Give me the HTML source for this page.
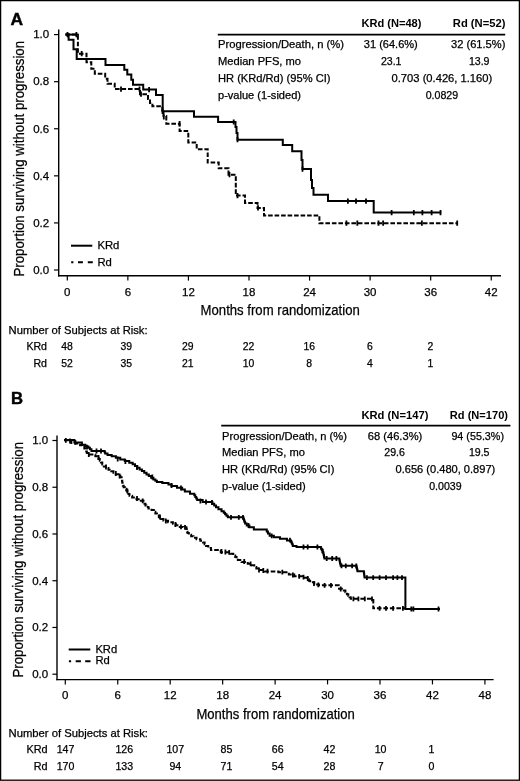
<!DOCTYPE html>
<html><head><meta charset="utf-8"><style>
html,body{margin:0;padding:0;background:#fff;}
svg{display:block;will-change:transform;}
text{font-family:"Liberation Sans", sans-serif;fill:#000;stroke:#000;stroke-width:0.25px;}
</style></head><body>
<svg width="520" height="781" viewBox="0 0 520 781" stroke="#000" fill="#000">
<rect x="0" y="0" width="520" height="781" fill="#fff" stroke="none"/>
<g stroke="none">
</g>
<g>
<line x1="58.7" y1="29.6" x2="58.7" y2="276.4" stroke-width="1.4"/>
<line x1="58" y1="275.8" x2="501" y2="275.8" stroke-width="1.4"/>
<line x1="54" y1="270" x2="58.7" y2="270" stroke-width="1.2"/>
<text x="49.2" y="273.8" font-size="11.5" text-anchor="end">0.0</text>
<line x1="54" y1="222.92" x2="58.7" y2="222.92" stroke-width="1.2"/>
<text x="49.2" y="226.72" font-size="11.5" text-anchor="end">0.2</text>
<line x1="54" y1="175.84" x2="58.7" y2="175.84" stroke-width="1.2"/>
<text x="49.2" y="179.64" font-size="11.5" text-anchor="end">0.4</text>
<line x1="54" y1="128.76" x2="58.7" y2="128.76" stroke-width="1.2"/>
<text x="49.2" y="132.56" font-size="11.5" text-anchor="end">0.6</text>
<line x1="54" y1="81.68" x2="58.7" y2="81.68" stroke-width="1.2"/>
<text x="49.2" y="85.48" font-size="11.5" text-anchor="end">0.8</text>
<line x1="54" y1="34.6" x2="58.7" y2="34.6" stroke-width="1.2"/>
<text x="49.2" y="38.4" font-size="11.5" text-anchor="end">1.0</text>
<line x1="67.3" y1="275.8" x2="67.3" y2="280.6" stroke-width="1.2"/>
<text x="67.3" y="295.8" font-size="11.5" text-anchor="middle">0</text>
<line x1="127.86" y1="275.8" x2="127.86" y2="280.6" stroke-width="1.2"/>
<text x="127.86" y="295.8" font-size="11.5" text-anchor="middle">6</text>
<line x1="188.43" y1="275.8" x2="188.43" y2="280.6" stroke-width="1.2"/>
<text x="188.43" y="295.8" font-size="11.5" text-anchor="middle">12</text>
<line x1="248.99" y1="275.8" x2="248.99" y2="280.6" stroke-width="1.2"/>
<text x="248.99" y="295.8" font-size="11.5" text-anchor="middle">18</text>
<line x1="309.56" y1="275.8" x2="309.56" y2="280.6" stroke-width="1.2"/>
<text x="309.56" y="295.8" font-size="11.5" text-anchor="middle">24</text>
<line x1="370.12" y1="275.8" x2="370.12" y2="280.6" stroke-width="1.2"/>
<text x="370.12" y="295.8" font-size="11.5" text-anchor="middle">30</text>
<line x1="430.68" y1="275.8" x2="430.68" y2="280.6" stroke-width="1.2"/>
<text x="430.68" y="295.8" font-size="11.5" text-anchor="middle">36</text>
<line x1="491.25" y1="275.8" x2="491.25" y2="280.6" stroke-width="1.2"/>
<text x="491.25" y="295.8" font-size="11.5" text-anchor="middle">42</text>
<text x="200.6" y="315.3" font-size="14.6" text-anchor="start" textLength="159.2" lengthAdjust="spacingAndGlyphs">Months from randomization</text>
<text transform="translate(24.0,276.5) rotate(-90)" font-size="15.2" textLength="235.6" lengthAdjust="spacingAndGlyphs">Proportion surviving without progression</text>
<text x="10.4" y="24.9" font-size="17.4" font-weight="bold" style="stroke-width:0.45px">A</text>
<text x="361.4" y="27.4" font-size="11" text-anchor="start" font-weight="bold" style="stroke-width:0" textLength="60" lengthAdjust="spacingAndGlyphs">KRd (N=48)</text>
<text x="452.8" y="27.4" font-size="11" text-anchor="start" font-weight="bold" style="stroke-width:0" textLength="52.6" lengthAdjust="spacingAndGlyphs">Rd (N=52)</text>
<line x1="217.8" y1="34.6" x2="505.2" y2="34.6" stroke-width="1.6"/>
<text x="218" y="48.4" font-size="10.6" text-anchor="start" textLength="126" lengthAdjust="spacingAndGlyphs">Progression/Death, n (%)</text>
<text x="218" y="65.1" font-size="10.6" text-anchor="start" textLength="83" lengthAdjust="spacingAndGlyphs">Median PFS, mo</text>
<text x="218" y="81.8" font-size="10.6" text-anchor="start" textLength="112.5" lengthAdjust="spacingAndGlyphs">HR (KRd/Rd) (95% CI)</text>
<text x="218" y="98.5" font-size="10.6" text-anchor="start" textLength="83" lengthAdjust="spacingAndGlyphs">p-value (1-sided)</text>
<text x="390.8" y="48.4" font-size="10.6" text-anchor="middle" textLength="54" lengthAdjust="spacingAndGlyphs">31 (64.6%)</text>
<text x="478.2" y="48.4" font-size="10.6" text-anchor="middle" textLength="54.4" lengthAdjust="spacingAndGlyphs">32 (61.5%)</text>
<text x="391.2" y="65.1" font-size="10.6" text-anchor="middle">23.1</text>
<text x="479.2" y="65.1" font-size="10.6" text-anchor="middle">13.9</text>
<text x="441.9" y="81.8" font-size="10.6" text-anchor="middle" textLength="100.7" lengthAdjust="spacingAndGlyphs">0.703 (0.426, 1.160)</text>
<text x="441.9" y="98.5" font-size="10.6" text-anchor="middle">0.0829</text>
<line x1="71" y1="245.7" x2="92.3" y2="245.7" stroke-width="2"/>
<path d="M71.2 262.2H73.4M78 262.2H82.9M87.8 262.2H92.8" stroke-width="2.1" fill="none"/>
<text x="97.4" y="249" font-size="11.3" text-anchor="start">KRd</text>
<text x="97.4" y="265.8" font-size="11.3" text-anchor="start">Rd</text>
<text x="8.6" y="333.8" font-size="10.8" text-anchor="start" textLength="139" lengthAdjust="spacingAndGlyphs">Number of Subjects at Risk:</text>
<text x="47" y="350" font-size="10.6" text-anchor="end">KRd</text>
<text x="47" y="366.6" font-size="10.6" text-anchor="end">Rd</text>
<text x="67.1" y="350.1" font-size="10.4" text-anchor="middle">48</text>
<text x="67.1" y="366.6" font-size="10.4" text-anchor="middle">52</text>
<text x="126.2" y="350.1" font-size="10.4" text-anchor="middle">39</text>
<text x="126.2" y="366.6" font-size="10.4" text-anchor="middle">35</text>
<text x="187.7" y="350.1" font-size="10.4" text-anchor="middle">29</text>
<text x="187.7" y="366.6" font-size="10.4" text-anchor="middle">21</text>
<text x="248.5" y="350.1" font-size="10.4" text-anchor="middle">22</text>
<text x="248.5" y="366.6" font-size="10.4" text-anchor="middle">10</text>
<text x="309.2" y="350.1" font-size="10.4" text-anchor="middle">16</text>
<text x="309.2" y="366.6" font-size="10.4" text-anchor="middle">8</text>
<text x="370" y="350.1" font-size="10.4" text-anchor="middle">6</text>
<text x="370" y="366.6" font-size="10.4" text-anchor="middle">4</text>
<text x="430.3" y="350.1" font-size="10.4" text-anchor="middle">2</text>
<text x="430.3" y="366.6" font-size="10.4" text-anchor="middle">1</text>
<path d="M65.5 34.6H68.6V39.8H73.5V49.3H76.7V58.9H105.5V64.9H124.3V69.8H127.3V74.6H131.3V79.8H133V84.8H143.2V89.6H156V95H162.7V111.3H194V116.8H218.1V122H235.5V127H236.5V133H237.5V139.7H282.8V145H292.2V151.3H301.5V160H302.5V169.1H311V180H312V188H313.5V194.8H328V201.1H373.7V212.6H441.3" stroke-width="2" fill="none" stroke-linejoin="miter"/>
<path d="M65.5 34.6H77.9V53.7H86.5V62.3H91.3V68.7H94.8V73.8H105.2V78.8H107.5V83.7H114.7V89.1H140V94.2H148V99H150V103H152.4V106.3H162.3V112H163.5V116H166.3V123.7H179.6V131H188.3V142.5H196.7V149.2H207.7V162.5H218.7V168.3H228.5V174.7H235.8V195.6H245V202.9H257.5V207.9H264V215.5H319.4V223.2H458" stroke-width="2" fill="none" stroke-dasharray="4.6 1.9"/>
<path d="M65.5 34.6H78.9" stroke-width="2" fill="none"/>
<path d="M67.5 32V37.2M149.1 87V92.2M233.7 119.4V124.6M237.5 137.1V142.3M302.5 166.5V171.7M347.9 198.5V203.7M356 198.5V203.7M366 198.5V203.7M391.6 210V215.2M413.8 210V215.2M422.4 210V215.2M431.6 210V215.2M440.5 210V215.2M76.4 32V37.2M81.7 51.1V56.3M121 86.5V91.7M139.5 86.5V91.7M141 91.6V96.8M162.5 108.9V114.1M163.8 114.4V119.6M179.6 121.1V126.3M229.5 172.1V177.3M237.5 193V198.2M258 205.3V210.5M346.4 220.6V225.8M357.3 220.6V225.8M378.5 220.6V225.8M383.1 220.6V225.8M421.9 220.6V225.8M457.2 220.6V225.8" stroke-width="1.8" fill="none"/>
<line x1="57" y1="435.4" x2="57" y2="680.3" stroke-width="1.4"/>
<line x1="56.3" y1="679.6" x2="493.6" y2="679.6" stroke-width="1.4"/>
<line x1="52.4" y1="674.2" x2="57" y2="674.2" stroke-width="1.2"/>
<text x="48.2" y="678" font-size="11.5" text-anchor="end">0.0</text>
<line x1="52.4" y1="627.46" x2="57" y2="627.46" stroke-width="1.2"/>
<text x="48.2" y="631.26" font-size="11.5" text-anchor="end">0.2</text>
<line x1="52.4" y1="580.72" x2="57" y2="580.72" stroke-width="1.2"/>
<text x="48.2" y="584.52" font-size="11.5" text-anchor="end">0.4</text>
<line x1="52.4" y1="533.98" x2="57" y2="533.98" stroke-width="1.2"/>
<text x="48.2" y="537.78" font-size="11.5" text-anchor="end">0.6</text>
<line x1="52.4" y1="487.24" x2="57" y2="487.24" stroke-width="1.2"/>
<text x="48.2" y="491.04" font-size="11.5" text-anchor="end">0.8</text>
<line x1="52.4" y1="440.5" x2="57" y2="440.5" stroke-width="1.2"/>
<text x="48.2" y="444.3" font-size="11.5" text-anchor="end">1.0</text>
<line x1="65.3" y1="679.6" x2="65.3" y2="684.4" stroke-width="1.2"/>
<text x="65.3" y="699.4" font-size="11.5" text-anchor="middle">0</text>
<line x1="117.75" y1="679.6" x2="117.75" y2="684.4" stroke-width="1.2"/>
<text x="117.75" y="699.4" font-size="11.5" text-anchor="middle">6</text>
<line x1="170.2" y1="679.6" x2="170.2" y2="684.4" stroke-width="1.2"/>
<text x="170.2" y="699.4" font-size="11.5" text-anchor="middle">12</text>
<line x1="222.66" y1="679.6" x2="222.66" y2="684.4" stroke-width="1.2"/>
<text x="222.66" y="699.4" font-size="11.5" text-anchor="middle">18</text>
<line x1="275.11" y1="679.6" x2="275.11" y2="684.4" stroke-width="1.2"/>
<text x="275.11" y="699.4" font-size="11.5" text-anchor="middle">24</text>
<line x1="327.56" y1="679.6" x2="327.56" y2="684.4" stroke-width="1.2"/>
<text x="327.56" y="699.4" font-size="11.5" text-anchor="middle">30</text>
<line x1="380.01" y1="679.6" x2="380.01" y2="684.4" stroke-width="1.2"/>
<text x="380.01" y="699.4" font-size="11.5" text-anchor="middle">36</text>
<line x1="432.46" y1="679.6" x2="432.46" y2="684.4" stroke-width="1.2"/>
<text x="432.46" y="699.4" font-size="11.5" text-anchor="middle">42</text>
<line x1="484.92" y1="679.6" x2="484.92" y2="684.4" stroke-width="1.2"/>
<text x="484.92" y="699.4" font-size="11.5" text-anchor="middle">48</text>
<text x="196.4" y="718.9" font-size="14.2" text-anchor="start" textLength="158.4" lengthAdjust="spacingAndGlyphs">Months from randomization</text>
<text transform="translate(22.5,677.6) rotate(-90)" font-size="15.2" textLength="235.6" lengthAdjust="spacingAndGlyphs">Proportion surviving without progression</text>
<text x="11" y="404.3" font-size="16.7" font-weight="bold" style="stroke-width:0.45px">B</text>
<text x="361.4" y="418.8" font-size="11" text-anchor="start" font-weight="bold" style="stroke-width:0" textLength="67" lengthAdjust="spacingAndGlyphs">KRd (N=147)</text>
<text x="449.8" y="418.8" font-size="11" text-anchor="start" font-weight="bold" style="stroke-width:0" textLength="58.2" lengthAdjust="spacingAndGlyphs">Rd (N=170)</text>
<line x1="221.2" y1="425.6" x2="510.4" y2="425.6" stroke-width="1.6"/>
<text x="222.1" y="439.6" font-size="10.6" text-anchor="start" textLength="124.8" lengthAdjust="spacingAndGlyphs">Progression/Death, n (%)</text>
<text x="222.1" y="456.3" font-size="10.6" text-anchor="start" textLength="82.8" lengthAdjust="spacingAndGlyphs">Median PFS, mo</text>
<text x="222.1" y="473" font-size="10.6" text-anchor="start" textLength="112.3" lengthAdjust="spacingAndGlyphs">HR (KRd/Rd) (95% CI)</text>
<text x="222.1" y="489.7" font-size="10.6" text-anchor="start" textLength="83.6" lengthAdjust="spacingAndGlyphs">p-value (1-sided)</text>
<text x="395" y="439.6" font-size="10.6" text-anchor="middle" textLength="54.5" lengthAdjust="spacingAndGlyphs">68 (46.3%)</text>
<text x="477.7" y="439.6" font-size="10.6" text-anchor="middle" textLength="52.6" lengthAdjust="spacingAndGlyphs">94 (55.3%)</text>
<text x="394.6" y="456.3" font-size="10.6" text-anchor="middle">29.6</text>
<text x="479.2" y="456.3" font-size="10.6" text-anchor="middle">19.5</text>
<text x="445.4" y="473" font-size="10.6" text-anchor="middle" textLength="99.7" lengthAdjust="spacingAndGlyphs">0.656 (0.480, 0.897)</text>
<text x="445.4" y="489.7" font-size="10.6" text-anchor="middle">0.0039</text>
<line x1="68.7" y1="649.5" x2="90.3" y2="649.5" stroke-width="2"/>
<path d="M68.9 661.2H71.1M75.7 661.2H80.9M85.2 661.2H90.5" stroke-width="2.1" fill="none"/>
<text x="95.4" y="652.5" font-size="11.2" text-anchor="start">KRd</text>
<text x="95.4" y="663.9" font-size="11.2" text-anchor="start">Rd</text>
<text x="8.5" y="736.5" font-size="10.8" text-anchor="start" textLength="139.5" lengthAdjust="spacingAndGlyphs">Number of Subjects at Risk:</text>
<text x="47.6" y="753.3" font-size="10.8" text-anchor="end" textLength="21.2" lengthAdjust="spacingAndGlyphs">KRd</text>
<text x="47.6" y="770.2" font-size="10.8" text-anchor="end">Rd</text>
<text x="65.5" y="753.3" font-size="10.6" text-anchor="middle">147</text>
<text x="65.5" y="770.2" font-size="10.6" text-anchor="middle">170</text>
<text x="124.3" y="753.3" font-size="10.6" text-anchor="middle">126</text>
<text x="124.3" y="770.2" font-size="10.6" text-anchor="middle">133</text>
<text x="175.3" y="753.3" font-size="10.6" text-anchor="middle">107</text>
<text x="175.3" y="770.2" font-size="10.6" text-anchor="middle">94</text>
<text x="226.5" y="753.3" font-size="10.6" text-anchor="middle">85</text>
<text x="226.5" y="770.2" font-size="10.6" text-anchor="middle">71</text>
<text x="277.7" y="753.3" font-size="10.6" text-anchor="middle">66</text>
<text x="277.7" y="770.2" font-size="10.6" text-anchor="middle">54</text>
<text x="329.4" y="753.3" font-size="10.6" text-anchor="middle">42</text>
<text x="329.4" y="770.2" font-size="10.6" text-anchor="middle">28</text>
<text x="380.6" y="753.3" font-size="10.6" text-anchor="middle">10</text>
<text x="380.6" y="770.2" font-size="10.6" text-anchor="middle">7</text>
<text x="431.4" y="753.3" font-size="10.6" text-anchor="middle">1</text>
<text x="431.4" y="770.2" font-size="10.6" text-anchor="middle">0</text>
<path d="M64 440.1L74.4 440.1L74.4 442.4L80.8 442.4H81.9V444.7H83H85.35V446.4H87.7H88.42V447.85H89.88V449.3H90.6H91.45V451H92.3L104.4 451H104.65V452.25H105.15V453.5H105.4H107.5V454.93H111.7V456.37H115.9V457.8H118H120.25V459.43H124.75V461.07H129.25V462.7H131.5H132.66V464.37H134.97V466.04H137.28V467.71H139.59V469.38H141.9V471.05H144.2V472.72H146.51V474.39H148.82V476.06H151.13V477.73H153.44V479.4H154.6H155.38V480.7H156.92V482H157.7H162.3V483H166.9H168.45V484.5H171.55V486H173.1H176.95V487.7H180.8H182.15V489.6H184.85V491.5H186.2H190V493.8H193.8H194.29V495.35H195.26V496.9H196.24V498.45H197.21V500H197.7H202.7V502H207.7L211.5 502H212.4V503.77H214.2V505.53H216V507.3H216.9H218.45V509.25H221.55V511.2H223.1H223.78V512.73H225.12V514.25H226.47V515.77H227.82V517.3H228.5L243.1 517.3H243.39V518.85H243.96V520.4H244.54V521.95H245.11V523.5H245.4H246.75V525.4H249.45V527.3H250.8H253.85V529.6H256.9L266.2 529.6H266.77V531.55H267.93V533.5H268.5H269.65V535.8H270.8H273.85V537.3H276.9H280V538.8H283.1H286.95V540.4H290.8H291.09V541.8H291.66V543.2H292.24V544.6H292.81V546H293.1H296.55V547H300L320.5 547H320.93V548.67H321.8V550.33H322.67V552H323.1H323.29V553.62H323.66V555.25H324.04V556.88H324.41V558.5H324.6L339.2 558.5H339.36V559.96H339.68V561.42H340V562.88H340.32V564.34H340.64V565.8H340.8L356.2 565.8H356.45V567.6H356.95V569.4H357.45V571.2H357.7L363.8 571.2H363.9V572.8H364.1V574.4H364.3V576H364.5V577.6H364.6L405.4 577.6L405.4 609L440 609" stroke-width="2" fill="none"/>
<path d="M64 440.2L71 440.2H71.12V441.6H71.38V443H71.5H75.25V443.5H79H80.07V445.17H82.2V446.83H84.33V448.5H85.4H85.69V449.98H86.26V451.45H86.84V452.92H87.41V454.4H87.7L93.8 454.4H95.35V456.2H96.9H97.48V457.65H98.62V459.1H99.2H99.78V460.85H100.92V462.6H101.5H102.28V464.55H103.82V466.5H104.6H105.88V468.07H108.45V469.63H111.02V471.2H112.3H113.45V472.73H115.75V474.25H118.05V475.77H120.35V477.3H121.5H121.65V479H121.95V480.7H122.25V482.4H122.55V484.1H122.85V485.8H123H123.65V487.33H124.95V488.87H126.25V490.4H126.9H127.42V492.2H128.45V494H129.48V495.8H130H132.17V497.47H136.5V499.13H140.83V500.8H143H143.49V502.32H144.46V503.85H145.44V505.38H146.41V506.9H146.9H148.45V508.45H151.55V510H153.1H153.87V511.8H155.4V513.6H156.93V515.4H157.7H158.85V517.2H161.15V519H163.45V520.8H164.6H168.05V522.3H171.5H172.92V523.83H175.75V525.37H178.58V526.9H180H183.1V527.3H186.2H186.39V528.75H186.76V530.2H187.14V531.65H187.51V533.1H187.7H188.85V534.63H191.15V536.17H193.45V537.7H194.6H196.53V539.25H200.38V540.8H202.3H203.07V542.53H204.6V544.27H206.13V546H206.9H208.25V548H210.95V550H212.3H220.75V552.3H229.2H230.55V553.85H233.25V555.4H234.6H235.25V556.93H236.55V558.47H237.85V560H238.5H241.57V561.9H247.73V563.8H250.8H251.95V565.35H254.25V566.9H255.4H256.35V568.45H258.25V570H259.2H264.6V571.5H270H278.45V572.3H286.9H288.85V574.6H290.8H294.25V576.2H297.7H302.3V577.7H306.9H307.55V579.23H308.85V580.77H310.15V582.3H310.8H314.25V584.6H317.7H318.85V585.3H320L338.5 585.3H338.68V587.05H339.02V588.8H339.2H341.9V590.4H344.6H345.38V592.3H346.93V594.2H347.7H348.3V595.73H349.5V597.27H350.7V598.8H351.3L373.3 598.8L373.3 608.3L405 608.3" stroke-width="2" fill="none" stroke-dasharray="4.6 1.9"/>
<path d="M65.8 437.9V442.7M75.4 439.9V444.7M87 444.8V449.6M96.5 448.6V453.4M101 448.6V453.4M117.7 456.6V461.4M125.4 459.2V464M137 465.1V469.9M152.3 474.6V479.4M171.5 483.1V487.9M181 485.6V490.4M200.4 498.6V503.4M206 499.6V504.4M212 500.1V504.9M231 514.9V519.7M238.8 514.9V519.7M243 514.9V519.7M248.5 523.1V527.9M271.7 533.4V538.2M290 537.8V542.6M303.5 544.6V549.4M307.7 544.6V549.4M317.4 544.6V549.4M322.5 548.6V553.4M326.7 556.1V560.9M332.2 556.1V560.9M336.4 556.1V560.9M341.5 563.4V568.2M345.8 563.4V568.2M352.1 563.4V568.2M356.3 563.4V568.2M366.9 575.2V580M373.2 575.2V580M379.6 575.2V580M386 575.2V580M393.1 575.2V580M397.4 575.2V580M402 575.2V580M411.3 606.6V611.4M413.4 606.6V611.4M438.5 606.6V611.4M70 438.6V443.4M88.8 452.1V456.9M98.5 455.1V459.9M106 464.6V469.4M115.8 471.1V475.9M119.6 473.6V478.4M127.3 488.6V493.4M137 496.1V500.9M142.7 498.4V503.2M160 514.6V519.4M165.8 518.6V523.4M175.4 522.1V526.9M181 524.5V529.3M185 524.9V529.7M221.5 549.1V553.9M225.4 549.6V554.4M229.2 549.9V554.7M244.2 559.1V563.9M250.6 561.4V566.2M259 567.6V572.4M263.3 568.1V572.9M267.5 568.8V573.6M282.3 569.8V574.6M292.9 572.6V577.4M299.2 574V578.8M303.5 574.8V579.6M307.7 576.1V580.9M314 581.2V586M318.3 582.4V587.2M324.6 582.9V587.7M331 582.9V587.7M340.7 586.6V591.4M353.4 596.4V601.2M358.4 596.4V601.2M364.8 596.4V601.2M372 596.4V601.2M379.6 605.9V610.7M386 605.9V610.7M393.1 605.9V610.7M402.9 605.9V610.7" stroke-width="1.8" fill="none"/>
</g>
<rect x="0.6" y="0.6" width="518.8" height="779.6" fill="none" stroke="#000" stroke-width="1.3"/>
</svg>
</body></html>
